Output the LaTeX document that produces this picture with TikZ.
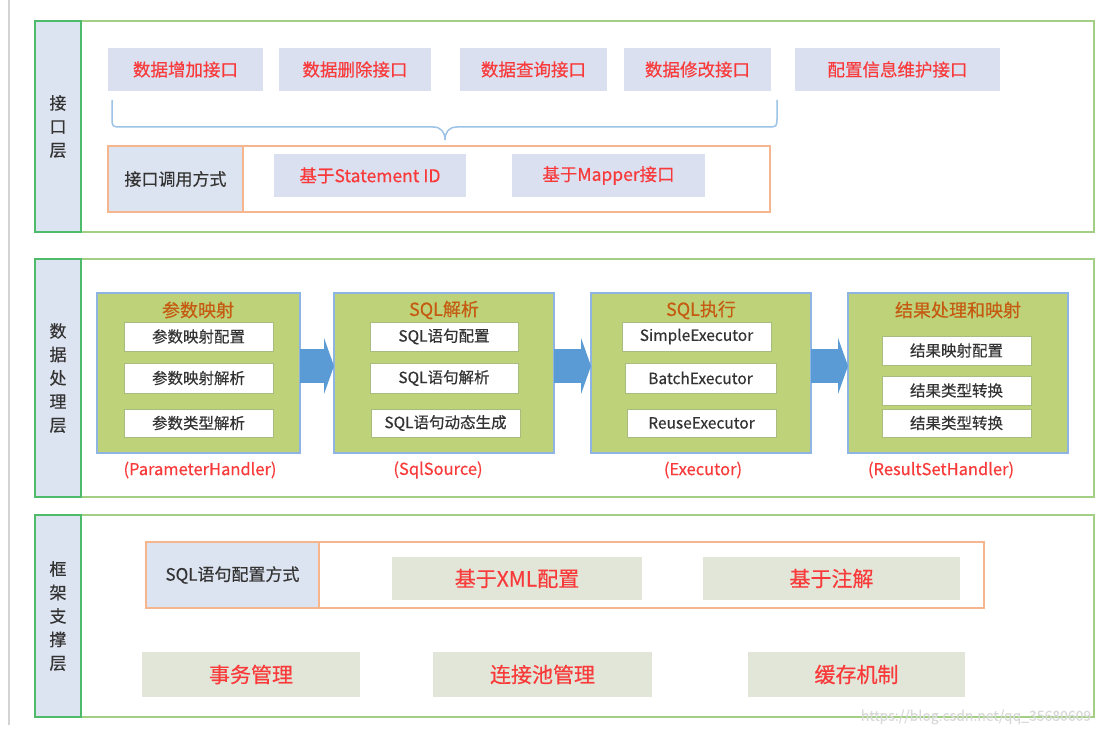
\documentclass[tikz,border=0pt]{standalone}
\usepackage{fontspec}
\setmainfont{Noto Sans CJK SC}[FakeBold=0.4]
\usetikzlibrary{arrows.meta}
\definecolor{laygreen}{HTML}{A3CF85}
\definecolor{labgreen}{HTML}{4DBB6A}
\definecolor{labfill}{HTML}{DDE4F1}
\definecolor{topfill}{HTML}{DBE0F0}
\definecolor{redtext}{HTML}{F83A3A}
\definecolor{darktext}{HTML}{333333}
\definecolor{orangeb}{HTML}{F6B58C}
\definecolor{stagefill}{HTML}{BED27A}
\definecolor{stageborder}{HTML}{8EB4E3}
\definecolor{titlecol}{HTML}{C55A11}
\definecolor{itemborder}{HTML}{A9BC80}
\definecolor{bigfill}{HTML}{E2E6D9}
\definecolor{arrowblue}{HTML}{5B9BD5}
\definecolor{bracecol}{HTML}{9DC3E6}
\definecolor{barcol}{HTML}{D4D4D4}
\definecolor{markcol}{HTML}{D9D9D9}
\newcommand\mybox[7]{\node[#6, minimum width={(#4)-(#2)}, minimum height={(#5)-(#3)}] (#1) at ({((#2)+(#4))/2},{((#3)+(#5))/2}) {#7};}
\begin{document}
\begin{tikzpicture}[x=1pt,y=-1pt,
  every node/.style={inner sep=0pt, outer sep=0pt},
  layer/.style={draw=laygreen, line width=1.5pt, fill=white},
  laylabel/.style={draw=labgreen, line width=1.5pt, fill=labfill, text=darktext, font=\fontsize{17}{23.5}\selectfont, align=center},
  topbox/.style={fill=topfill, text=redtext, font=\fontsize{17.5}{20}\selectfont},
  callbox/.style={draw=orangeb, line width=1.3pt, fill=white},
  calllab/.style={draw=orangeb, line width=1.3pt, fill=labfill, text=darktext, font=\fontsize{17}{20}\selectfont},
  stage/.style={draw=stageborder, line width=1.2pt, fill=stagefill},
  stagetitle/.style={text=titlecol, font=\fontsize{18}{20}\selectfont},
  item/.style={draw=itemborder, line width=1pt, fill=white, text=darktext, font=\fontsize{15.5}{18}\selectfont},
  handler/.style={text=redtext, font=\fontsize{16.5}{18}\selectfont},
  bigbox/.style={fill=bigfill, text=redtext, font=\fontsize{21}{24}\selectfont},
  flow/.style={draw=arrowblue, line width=34pt, -{Triangle[length=10pt,width=56pt]}},
  bracepath/.style={draw=bracecol, line width=1.5pt},
  graybar/.style={draw=barcol, line width=2pt}]
\useasboundingbox (0,0) rectangle (1107,735);
% left gray bar
\coordinate (gb1) at (9,0);
\coordinate (gb2) at (9,725);
\draw[graybar] (gb1) -- (gb2);

% ---------- layer 1 ----------
\mybox{L1}{35}{21}{1094}{232}{layer}{}
\mybox{L1lab}{35}{21}{81}{232}{laylabel}{接\\口\\层}
\mybox{t1}{108}{48}{263}{91}{topbox}{数据增加接口}
\mybox{t2}{279}{48}{431}{91}{topbox}{数据删除接口}
\mybox{t3}{460}{48}{607}{91}{topbox}{数据查询接口}
\mybox{t4}{624}{48}{771}{91}{topbox}{数据修改接口}
\mybox{t5}{795}{48}{1000}{91}{topbox}{配置信息维护接口}
\draw[bracepath] (112,100) -- (112,117) .. controls (112,127) .. (122,127) -- (433,127)
  .. controls (441,127) and (445,132) .. (445,140)
  .. controls (445,132) and (449,127) .. (457,127) -- (767,127)
  .. controls (777,127) .. (777,117) -- (777,100);
\mybox{C}{108}{146}{770}{212}{callbox}{}
\mybox{Clab}{108}{146}{243}{212}{calllab}{接口调用方式}
\mybox{c1}{274}{154}{466}{197}{topbox}{基于Statement ID}
\mybox{c2}{512}{154}{705}{197}{topbox}{基于Mapper接口}

% ---------- layer 2 ----------
\mybox{L2}{35}{259}{1094}{497}{layer}{}
\mybox{L2lab}{35}{259}{81}{497}{laylabel}{数\\据\\处\\理\\层}
\mybox{g1}{97}{293}{300}{453}{stage}{}
\mybox{g2}{334}{293}{554}{453}{stage}{}
\mybox{g3}{591}{293}{811}{453}{stage}{}
\mybox{g4}{848}{293}{1068}{453}{stage}{}
\node[stagetitle] (g1t) at (198,310) {参数映射};
\node[stagetitle] (g2t) at (444,310) {SQL解析};
\node[stagetitle] (g3t) at (701,310) {SQL执行};
\node[stagetitle] (g4t) at (958,310) {结果处理和映射};
\mybox{i11}{124}{322}{273}{351}{item}{参数映射配置}
\mybox{i12}{124}{363}{273}{393}{item}{参数映射解析}
\mybox{i13}{124}{409}{273}{437}{item}{参数类型解析}
\mybox{i21}{370}{322}{518}{351}{item}{SQL语句配置}
\mybox{i22}{370}{363}{518}{393}{item}{SQL语句解析}
\mybox{i23}{371}{409}{520}{437}{item}{SQL语句动态生成}
\mybox{i31}{622}{322}{771}{351}{item}{SimpleExecutor}
\mybox{i32}{625}{363}{776}{393}{item}{BatchExecutor}
\mybox{i33}{627}{409}{776}{437}{item}{ReuseExecutor}
\mybox{i41}{882}{336}{1031}{365}{item}{结果映射配置}
\mybox{i42}{882}{376}{1031}{405}{item}{结果类型转换}
\mybox{i43}{882}{409}{1031}{437}{item}{结果类型转换}
\draw[flow] ([yshift=7pt]g1.east) -- ([yshift=7pt]g2.west);
\draw[flow] ([yshift=7pt]g2.east) -- ([yshift=7pt]g3.west);
\draw[flow] ([yshift=7pt]g3.east) -- ([yshift=7pt]g4.west);
\node[handler] (h1) at (200,470) {(ParameterHandler)};
\node[handler] (h2) at (438,470) {(SqlSource)};
\node[handler] (h3) at (703,470) {(Executor)};
\node[handler] (h4) at (941,470) {(ResultSetHandler)};

% ---------- layer 3 ----------
\mybox{L3}{35}{515}{1094}{717}{layer}{}
\mybox{L3lab}{35}{515}{81}{717}{laylabel}{框\\架\\支\\撑\\层}
\mybox{S}{146}{542}{984}{608}{callbox}{}
\mybox{Slab}{146}{542}{319}{608}{calllab}{SQL语句配置方式}
\mybox{s1}{392}{557}{642}{600}{bigbox}{基于XML配置}
\mybox{s2}{703}{557}{960}{600}{bigbox}{基于注解}
\mybox{b1}{142}{652}{360}{697}{bigbox}{事务管理}
\mybox{b2}{433}{652}{652}{697}{bigbox}{连接池管理}
\mybox{b3}{748}{652}{965}{697}{bigbox}{缓存机制}

% watermark
\node[text=markcol, font=\fontsize{14}{16}\selectfont] (wm) at (976,717) {https://blog.csdn.net/qq\_35680609};
\end{tikzpicture}
\end{document}
